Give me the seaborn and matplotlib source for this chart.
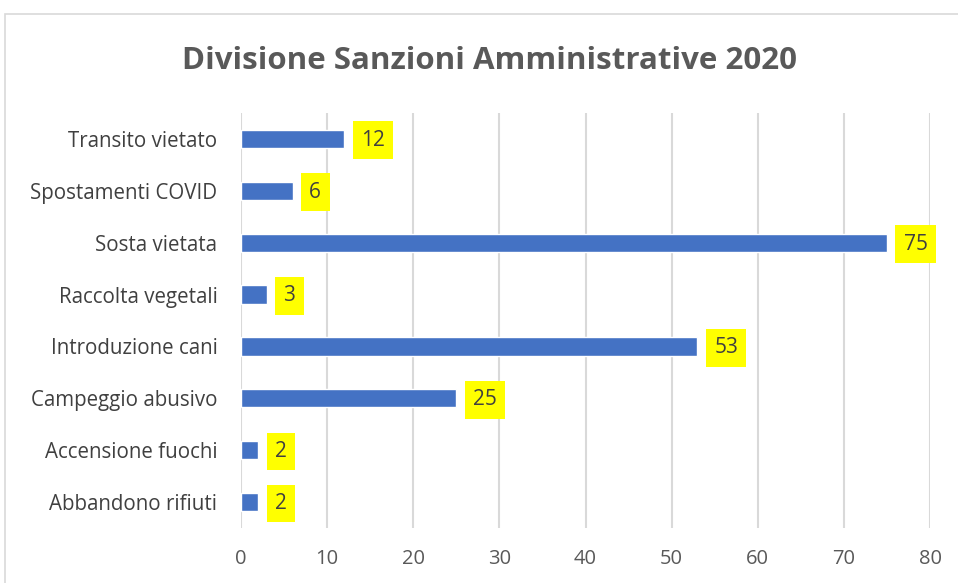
import matplotlib
matplotlib.use("Agg")
import matplotlib.pyplot as plt
import seaborn as sns
import pandas as pd
from matplotlib.patches import Rectangle

categories = ["Transito vietato", "Spostamenti COVID", "Sosta vietata", "Raccolta vegetali",
              "Introduzione cani", "Campeggio abusivo", "Accensione fuochi", "Abbandono rifiuti"]
values = [12, 6, 75, 3, 53, 25, 2, 2]
title = "Divisione Sanzioni Amministrative 2020"
xticks = [0, 10, 20, 30, 40, 50, 60, 70, 80]

sns.set_theme(style="white")
plt.rcParams['font.family'] = ['Open Sans', 'DejaVu Sans']

df = pd.DataFrame({"cat": categories, "val": values})

fig = plt.figure(figsize=(9.58, 5.83), dpi=100)
ax = fig.add_axes([241/958, 1-528/583, (930-241)/958, (528-113)/583])

sns.barplot(data=df, y="cat", x="val", orient="h", color="#4472C4", saturation=1,
            width=0.35, ax=ax)

ax.set_xlim(0, 80)
ax.set_ylim(len(categories) - 0.5, -0.5)
ax.set_xticks(xticks)
ax.set_xticklabels([str(t) for t in xticks])
ax.xaxis.grid(True, color="#d9d9d9", linewidth=1.5)
ax.set_axisbelow(True)
for s in ax.spines.values():
    s.set_visible(False)
ax.set_xlabel("")
ax.set_ylabel("")
ax.tick_params(axis="x", length=0, pad=15, labelsize=14.5, labelcolor="#595959")
ax.tick_params(axis="y", length=0, pad=17, labelsize=14.8, labelcolor="#404040")

for i, v in enumerate(values):
    ax.annotate(str(v), xy=(v, i), xytext=(12, -1), textcoords="offset points",
                ha="left", va="center", fontsize=15, color="#404040",
                bbox=dict(boxstyle="square,pad=0.4", fc="#FFFF00", ec="none"))

fig.text(490/958, 1-61/583, title, ha="center", va="center", fontsize=22.5,
         fontweight="bold", color="#595959")

fig.patches.append(Rectangle((5/958, -0.1), 1.2, 1 - 14/583 + 0.1, transform=fig.transFigure,
                             fill=False, ec="#d9d9d9", lw=1.2))

fig.savefig("out.png", dpi=100)
